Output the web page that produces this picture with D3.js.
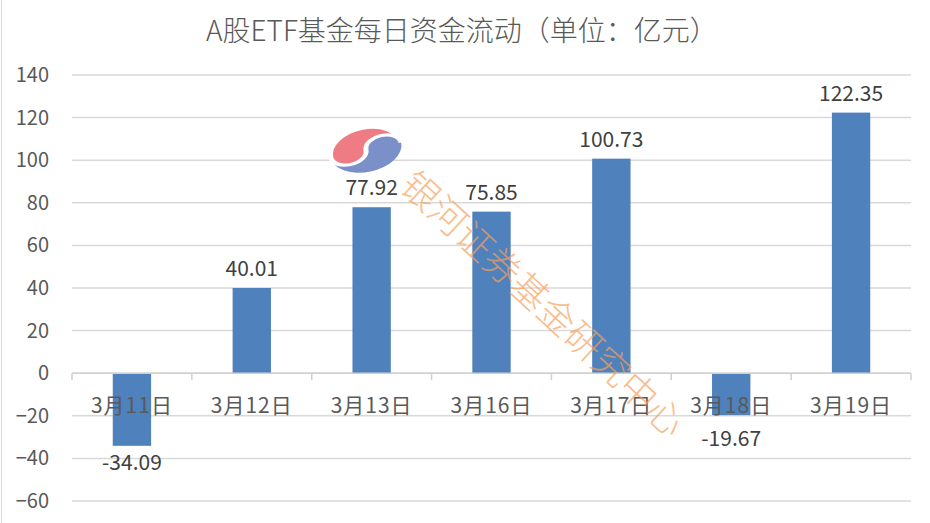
<!DOCTYPE html>
<html>
<head>
<meta charset="utf-8">
<script src="https://cdn.jsdelivr.net/npm/d3@7"></script>
<style>
  body { margin: 0; background: #fff; }
  text { font-family: "Noto Sans CJK SC", "Noto Sans", sans-serif; }
</style>
</head>
<body>
<div id="chart"></div>
<script>
const categories = ["3月11日", "3月12日", "3月13日", "3月16日", "3月17日", "3月18日", "3月19日"];
const values = [-34.09, 40.01, 77.92, 75.85, 100.73, -19.67, 122.35];
const yTicks = [-60, -40, -20, 0, 20, 40, 60, 80, 100, 120, 140];
const title = "A股ETF基金每日资金流动（单位：亿元）";
const watermark = "银河证券基金研究中心";

const width = 930;
const height = 523;
const margin = { left: 72, right: 19, top: 75, bottom: 22 };

const svg = d3.select("#chart")
  .append("svg")
  .attr("width", width)
  .attr("height", height);

//chart border (only left edge shows)
svg.append("line")
  .attr("x1", 1.5).attr("x2", 1.5)
  .attr("y1", 0).attr("y2", height)
  .attr("stroke", "#d9d9d9");

const x = d3.scaleBand()
  .domain(categories)
  .range([margin.left, width - margin.right])
  .padding(0);

const y = d3.scaleLinear()
  .domain([-60, 140])
  .range([height - margin.bottom, margin.top]);

const barWidth = x.bandwidth() * 0.32;

//Title
svg.append("text")
  .attr("x", 462)
  .attr("y", 41)
  .attr("text-anchor", "middle")
  .attr("font-size", 28)
  .attr("font-weight", 300)
  .attr("fill", "#595959")
  .text(title);

//Grid
svg.append("g")
  .selectAll("line")
  .data(yTicks)
  .enter()
  .append("line")
  .attr("x1", margin.left)
  .attr("x2", width - margin.right)
  .attr("y1", (d) => y(d))
  .attr("y2", (d) => y(d))
  .attr("stroke", "#d9d9d9")
  .attr("stroke-width", 1.5);

//Y axis labels
const yAxis = d3.axisLeft(y).tickValues(yTicks).tickSize(0).tickPadding(0);
svg.append("g")
  .attr("transform", `translate(49,0)`)
  .call(yAxis)
  .call((g) => g.select(".domain").remove())
  .selectAll("text")
  .attr("font-size", 20)
  .attr("fill", "#595959")
  .style("font-family", "'Noto Sans CJK SC', sans-serif");

//Bars
svg.append("g")
  .selectAll("rect")
  .data(values)
  .enter()
  .append("rect")
  .attr("x", (d, i) => x(categories[i]) + (x.bandwidth() - barWidth) / 2)
  .attr("y", (d) => y(Math.max(0, d)))
  .attr("width", barWidth)
  .attr("height", (d) => Math.abs(y(d) - y(0)))
  .attr("fill", "#4f81bd");

//Zero axis with category ticks
const zero = y(0);
svg.append("line")
  .attr("x1", margin.left)
  .attr("x2", width - margin.right)
  .attr("y1", zero)
  .attr("y2", zero)
  .attr("stroke", "#d0d0d0")
  .attr("stroke-width", 1.5);

const bounds = categories.map((c) => x(c)).concat([width - margin.right]);
svg.append("g")
  .selectAll("line")
  .data(bounds)
  .enter()
  .append("line")
  .attr("x1", (d) => d)
  .attr("x2", (d) => d)
  .attr("y1", zero)
  .attr("y2", zero + 7)
  .attr("stroke", "#d0d0d0")
  .attr("stroke-width", 1.5);

//Category labels
svg.append("g")
  .selectAll("text")
  .data(categories)
  .enter()
  .append("text")
  .attr("x", (d) => x(d) + x.bandwidth() / 2)
  .attr("y", zero + 40)
  .attr("text-anchor", "middle")
  .attr("font-size", 21)
  .attr("letter-spacing", 1)
  .attr("fill", "#595959")
  .text((d) => d);

//Value labels (negative ones kept clear of the category labels)
svg.append("g")
  .selectAll("text")
  .data(values)
  .enter()
  .append("text")
  .attr("x", (d, i) => x(categories[i]) + x.bandwidth() / 2)
  .attr("y", (d) => (d >= 0 ? y(d) - 12 : Math.max(y(d) + 24, zero + 73)))
  .attr("text-anchor", "middle")
  .attr("font-size", 21)
  .attr("fill", "#404040")
  .text((d) => d.toFixed(2));

//Watermark logo
const logo = svg.append("g")
  .attr("transform", "translate(366,150) rotate(-12) scale(36,22)");
logo.append("ellipse")
  .attr("rx", 1).attr("ry", 1)
  .attr("fill", "#7b8fc9");
logo.append("path")
  .attr("d", "M-1,0 A1,1 0 0,1 1,0 A0.5,0.5 0 0,0 0,0 A0.5,0.5 0 0,1 -1,0 Z")
  .attr("fill", "#ef7b84")
  .attr("stroke", "#fff")
  .attr("stroke-width", 0.14);

//Watermark text
svg.append("text")
  .attr("transform", "translate(545,302) rotate(42.6)")
  .attr("text-anchor", "middle")
  .attr("dominant-baseline", "central")
  .attr("font-size", 37)
  .attr("font-weight", 300)
  .attr("fill", "#f7a05a")
  .attr("fill-opacity", 0.7)
  .text(watermark);
</script>
</body>
</html>
